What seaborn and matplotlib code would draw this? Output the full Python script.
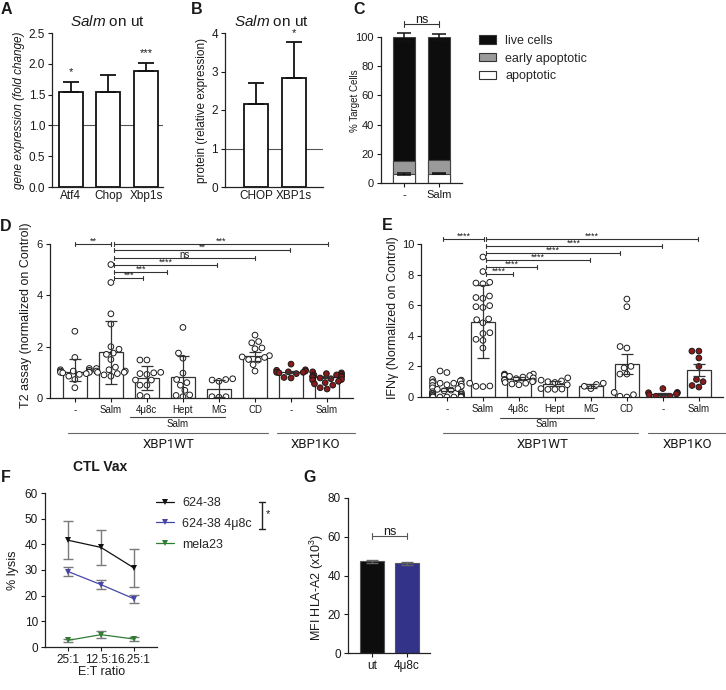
import warnings
warnings.filterwarnings("ignore")
import numpy as np
import pandas as pd
import matplotlib
matplotlib.use("Agg")
import matplotlib.pyplot as plt
import matplotlib.transforms as mtransforms
from matplotlib.patches import Patch
from matplotlib.lines import Line2D
import seaborn as sns

# ---------------- data ----------------
# Panel A
a_genes = ["Atf4", "Chop", "Xbp1s"]
a_mean = [1.54, 1.55, 1.88]
a_err = [0.17, 0.27, 0.14]
a_sig = ["*", "", "***"]
# Panel B
b_proteins = ["CHOP", "XBP1s"]
b_mean = [2.16, 2.83]
b_err = [0.53, 0.93]
b_sig = ["", "*"]
# Panel C
c_groups = ["-", "Salm"]
c_apoptotic = [6.0, 6.5]
c_early = [9.0, 9.0]
c_live = [85.0, 84.5]
c_live_err = [3.0, 2.0]
c_apo_err = [0.6, 0.6]
c_states = ["live cells", "early apoptotic", "apoptotic"]
# Panels D / E categories
de_treat = ["-", "Salm", "4μ8c", "Hept", "MG", "CD", "-", "Salm"]
de_geno = ["WT", "WT", "WT", "WT", "WT", "WT", "KO", "KO"]
# Panel D
d_mean = [1.02, 1.78, 0.77, 0.80, 0.37, 1.63, 1.00, 0.80]
d_lo = [0.35, 1.22, 0.47, 0.80, 0.33, 0.19, 0.04, 0.04]
d_hi = [0.50, 1.22, 0.48, 0.83, 0.33, 0.17, 0.04, 0.04]
d_points = [
    [2.6, 1.58, 1.15, 1.1, 1.08, 1.05, 1.05, 1.02, 1.0, 1.0, 0.98, 0.95, 0.92, 0.85, 0.72, 0.4],
    [5.2, 4.5, 3.28, 2.88, 2.0, 1.9, 1.75, 1.7, 1.5, 1.2, 1.15, 1.1, 1.05, 1.05, 1.0, 1.0, 0.95, 0.9, 0.85],
    [1.48, 1.48, 1.0, 0.98, 0.95, 0.92, 0.7, 0.7, 0.5, 0.5, 0.1, 0.05],
    [2.75, 1.75, 1.55, 0.97, 0.72, 0.6, 0.5, 0.3, 0.12, 0.1, 0.05],
    [0.72, 0.7, 0.75, 0.65, 0.05, 0.03, 0.05],
    [2.45, 2.2, 2.15, 1.95, 1.92, 1.65, 1.6, 1.58, 1.5, 1.48, 1.3, 1.05],
    [1.32, 1.1, 1.08, 1.05, 1.02, 1.0, 1.0, 0.98, 0.95, 0.8, 0.78],
    [1.02, 0.98, 0.95, 0.92, 0.9, 0.9, 0.85, 0.85, 0.82, 0.8, 0.78, 0.75, 0.72, 0.7,
     0.65, 0.6, 0.55, 0.5, 0.4, 0.35],
]
d_brackets = [(0.0, 1.0, 6.0, "**"), (1.1, 7.03, 6.0, "***"), (1.1, 5.97, 5.76, "**"),
              (1.1, 5.0, 5.45, "ns"), (1.1, 3.94, 5.17, "****"), (1.1, 2.56, 4.9, "***"),
              (1.1, 1.89, 4.66, "***")]
# Panel E
e_mean = [0.48, 4.88, 1.2, 0.84, 0.7, 2.15, 0.2, 1.75]
e_lo = [0.12, 2.35, 0.1, 0.12, 0.1, 0.65, 0.05, 0.38]
e_hi = [0.12, 2.42, 0.1, 0.18, 0.12, 0.65, 0.05, 0.38]
e_points = [
    [1.7, 1.6, 1.15, 1.1, 1.05, 1.0, 0.95, 0.9, 0.9, 0.85, 0.8, 0.75, 0.7, 0.6, 0.55, 0.5,
     0.45, 0.4, 0.35, 0.3, 0.25, 0.2, 0.2, 0.15, 0.1, 0.1, 0.05, 0.05, 0.02, 0.0, 0.0, 0.0, 0.0, 0.0],
    [9.15, 8.2, 7.5, 7.45, 7.4, 6.6, 6.5, 6.45, 5.97, 5.9, 5.85, 5.1, 5.05, 4.85, 4.2, 4.15,
     3.77, 3.7, 3.2, 0.9, 0.72, 0.7, 0.68],
    [1.5, 1.5, 1.45, 1.42, 1.4, 1.35, 1.3, 1.25, 1.2, 1.15, 1.1, 1.05, 1.0, 0.95, 0.9, 0.85, 0.8],
    [1.25, 1.1, 1.05, 1.0, 0.95, 0.8, 0.55, 0.5, 0.5, 0.52],
    [0.9, 0.82, 0.7, 0.55],
    [6.4, 5.9, 3.3, 3.2, 2.0, 1.9, 1.5, 1.5, 0.3, 0.15, 0.05, 0.0],
    [0.55, 0.3, 0.28, 0.25, 0.2, 0.15, 0.05, 0.0, 0.05],
    [3.0, 3.0, 2.55, 2.0, 1.15, 1.0, 0.75, 0.65],
]
e_brackets = [(-0.1, 1.03, 10.3, "****"), (1.08, 6.97, 10.3, "****"), (1.08, 5.97, 9.87, "****"),
              (1.08, 4.8, 9.4, "****"), (1.08, 3.97, 8.95, "****"), (1.08, 2.5, 8.5, "****"),
              (1.08, 1.83, 8.04, "****")]
# Panel F
f_ratios = ["25:1", "12.5:1", "6.25:1"]
f_series = ["624-38", "624-38 4μ8c", "mela23"]
f_624 = [41.6, 38.8, 30.8]
f_624_err = [7.4, 6.9, 7.5]
f_4u8c = [29.4, 24.3, 18.8]
f_4u8c_err = [1.8, 1.8, 1.5]
f_mela = [2.6, 4.8, 3.1]
f_mela_err = [0.5, 1.3, 0.8]
# Panel G
g_groups = ["ut", "4μ8c"]
g_mean = [47.3, 46.2]
g_err = [0.9, 0.7]

# ---------------- style ----------------
sns.set_theme(style="ticks")
plt.rcParams['font.family'] = ['Liberation Sans', 'DejaVu Sans']
plt.rcParams['mathtext.fontset'] = 'custom'
plt.rcParams['mathtext.rm'] = 'Liberation Sans'
plt.rcParams['mathtext.it'] = 'Liberation Sans:italic'
plt.rcParams['axes.linewidth'] = 0.9

W, H = 726, 690
fig = plt.figure(figsize=(W / 100, H / 100), dpi=100)
fig.patch.set_facecolor('white')
TXT = '#1a1a1a'


def box(l, t, r, b):
    ax = fig.add_axes([l / W, 1 - b / H, (r - l) / W, (b - t) / H])
    ax.set_facecolor('none')
    ax._pxbox = (l, t, r, b)
    return ax


def style(ax, fs):
    sns.despine(ax=ax)
    ax.tick_params(axis='both', direction='out', length=3, width=0.8, labelsize=fs,
                   pad=2, colors=TXT)
    for s in ['left', 'bottom']:
        ax.spines[s].set_linewidth(0.9)
        ax.spines[s].set_color('#222222')


def ylab(ax, text, px, py=None, **kw):
    l, t, r, b = ax._pxbox
    ax.set_ylabel(text, color=TXT, **kw)
    yy = 0.5 if py is None else (b - py) / (b - t)
    ax.yaxis.set_label_coords((px - l) / (r - l), yy)
    ax.yaxis.label.set_va('center')


def ftext(x, y, s, **kw):
    fig.text(x / W, 1 - y / H, s, color=TXT, **kw)


def px2data(ax, px):
    l, t, r, b = ax._pxbox
    y0, y1 = ax.get_ylim()
    return px * (y1 - y0) / (b - t)


def bracket(ax, x1, x2, y, txt, fs=6.5, tick=2.0, off=1.0, color='#333333'):
    dy = px2data(ax, tick)
    ax.plot([x1, x2], [y, y], color=color, lw=0.8, clip_on=False, solid_capstyle='butt')
    ax.plot([x1, x1], [y - dy, y + dy], color=color, lw=0.8, clip_on=False)
    ax.plot([x2, x2], [y - dy, y + dy], color=color, lw=0.8, clip_on=False)
    ax.annotate(txt, xy=((x1 + x2) / 2, y), xytext=(0, off), textcoords='offset points',
                ha='center', va='baseline', fontsize=fs, color=TXT, annotation_clip=False)


def hline_fig(ax, x1, x2, py, color='#444444', lw=0.8):
    tr = mtransforms.blended_transform_factory(ax.transData, fig.transFigure)
    ax.plot([x1, x2], [1 - py / H, 1 - py / H], transform=tr, color=color, lw=lw, clip_on=False)


def text_fig(ax, x, py, s, **kw):
    tr = mtransforms.blended_transform_factory(ax.transData, fig.transFigure)
    ax.text(x, 1 - py / H, s, transform=tr, ha='center', va='center', color=TXT, **kw)


# panel letters
for letter, (lx, ly) in {"A": (6, 9), "B": (197, 9), "C": (359, 9), "D": (6, 227),
                         "E": (387, 226), "F": (6, 477), "G": (310, 477)}.items():
    ftext(lx, ly, letter, fontsize=11.5, fontweight='bold', ha='center', va='center')

# ---------------- Panel A ----------------
axA = box(52, 33, 163, 187)
sns.barplot(x=a_genes, y=a_mean, color='white', edgecolor='#111111', linewidth=1.3,
            width=0.64, errorbar=None, ax=axA)
axA.errorbar(range(3), a_mean, yerr=[np.zeros(3), a_err], fmt='none', ecolor='#111111',
             elinewidth=1.3, capsize=6, capthick=1.3)
axA.axhline(1.0, color='#555555', lw=0.8, zorder=0.5)
for i, s in enumerate(a_sig):
    if s:
        axA.text(i, a_mean[i] + a_err[i] + 0.07, s, ha='center', va='bottom', fontsize=8, color=TXT)
axA.set_ylim(0, 2.5)
axA.set_xlim(-0.5, 2.45)
axA.set_yticks([0, 0.5, 1.0, 1.5, 2.0, 2.5])
axA.set_yticklabels(["0.0", "0.5", "1.0", "1.5", "2.0", "2.5"])
style(axA, 8.5)
axA.tick_params(axis='x', length=0)
ylab(axA, "gene expression (fold change)", 19, fontsize=8.5, style='italic')
ftext(107, 21, r"$\mathit{Salm}$ on ut", fontsize=11, ha='center', va='center')

# ---------------- Panel B ----------------
axB = box(225, 33, 323, 187)
sns.barplot(x=b_proteins, y=b_mean, color='white', edgecolor='#111111', linewidth=1.3,
            width=0.64, errorbar=None, ax=axB)
axB.errorbar(range(2), b_mean, yerr=[np.zeros(2), b_err], fmt='none', ecolor='#111111',
             elinewidth=1.3, capsize=6, capthick=1.3)
axB.axhline(1.0, color='#555555', lw=0.8, zorder=0.5)
for i, s in enumerate(b_sig):
    if s:
        axB.text(i, b_mean[i] + b_err[i] + 0.1, s, ha='center', va='bottom', fontsize=8, color=TXT)
axB.set_ylim(0, 4)
axB.set_xlim(-0.82, 1.76)
axB.set_yticks([0, 1, 2, 3, 4])
style(axB, 8.5)
axB.tick_params(axis='x', length=0)
ylab(axB, "protein (relative expression)", 202, fontsize=8.5)
ftext(271, 21, r"$\mathit{Salm}$ on ut", fontsize=11, ha='center', va='center')

# ---------------- Panel C ----------------
axC = box(381, 37, 462, 183)
c_tot_live = [a + e + l for a, e, l in zip(c_apoptotic, c_early, c_live)]
c_tot_early = [a + e for a, e in zip(c_apoptotic, c_early)]
sns.barplot(x=c_groups, y=c_tot_live, color='#0d0d0d', saturation=1, edgecolor='#444444',
            linewidth=0.8, width=0.63, errorbar=None, ax=axC)
sns.barplot(x=c_groups, y=c_tot_early, color='#9a9a9a', saturation=1, edgecolor='#444444',
            linewidth=0.8, width=0.63, errorbar=None, ax=axC)
sns.barplot(x=c_groups, y=c_apoptotic, color='white', saturation=1, edgecolor='#444444',
            linewidth=0.8, width=0.63, errorbar=None, ax=axC)
axC.errorbar(range(2), c_tot_live, yerr=c_live_err, fmt='none', ecolor='#111111',
             elinewidth=1.1, capsize=5, capthick=1.1, clip_on=False)
axC.errorbar(range(2), c_apoptotic, yerr=c_apo_err, fmt='none', ecolor='#111111',
             elinewidth=1.1, capsize=5, capthick=1.1)
axC.set_ylim(0, 100)
axC.set_xlim(-0.66, 1.66)
axC.set_yticks([0, 20, 40, 60, 80, 100])
style(axC, 8)
ylab(axC, "% Target Cells", 355, py=101, fontsize=7)
bracket(axC, 0, 1, 109, "ns", fs=9, tick=3, off=0.5)
c_handles = [Patch(facecolor='#0d0d0d', edgecolor='#333333', lw=0.8),
             Patch(facecolor='#9a9a9a', edgecolor='#333333', lw=0.8),
             Patch(facecolor='white', edgecolor='#333333', lw=0.8)]
axC.legend(c_handles, c_states, loc='upper left', bbox_to_anchor=(479 / W, 1 - 35 / H),
           bbox_transform=fig.transFigure, frameon=False, fontsize=9, handlelength=1.4,
           handleheight=0.65, handletextpad=0.7, labelspacing=0.45, borderpad=0,
           borderaxespad=0)

# ---------------- Panels D and E ----------------
keys = [f"{g} {t}" for g, t in zip(de_geno, de_treat)]
pal = {"WT": "white", "KO": "#8b1a1a"}


def scatter_bar(ax, means, lo, hi, points):
    rows = [(keys[i], v, de_geno[i]) for i in range(len(keys)) for v in points[i]]
    df = pd.DataFrame(rows, columns=["key", "value", "geno"])
    sns.barplot(x=keys, y=means, order=keys, color='white', saturation=1,
                edgecolor='#333333', linewidth=0.9, width=0.66, errorbar=None, ax=ax)
    sns.swarmplot(data=df, x="key", y="value", hue="geno", order=keys, palette=pal,
                  size=4.1, edgecolor='#1a1a1a', linewidth=0.7, legend=False, ax=ax, zorder=3)
    ax.errorbar(range(len(keys)), means, yerr=[lo, hi], fmt='none', ecolor='#333333',
                elinewidth=0.9, capsize=4.5, capthick=0.9, zorder=4)
    ax.set_xticks(range(len(keys)))
    ax.set_xticklabels(de_treat)
    ax.set_xlabel("")


axD = box(50, 244, 353, 398)
scatter_bar(axD, d_mean, d_lo, d_hi, d_points)
axD.set_ylim(0, 6)
axD.set_xlim(-0.69, 7.72)
axD.set_yticks([0, 2, 4, 6])
style(axD, 8)
axD.tick_params(axis='x', labelsize=7)
ylab(axD, "T2 assay (normalized on Control)", 26, py=315, fontsize=9)
for x1, x2, y, s in d_brackets:
    bracket(axD, x1, x2, y, s, fs=6.5 if s != "ns" else 7, tick=2, off=0.3)
hline_fig(axD, 1.53, 4.17, 417)
text_fig(axD, 2.85, 424, "Salm", fontsize=7)
hline_fig(axD, -0.2, 5.36, 433, color='#666666')
hline_fig(axD, 5.6, 7.78, 433, color='#666666')
text_fig(axD, 2.6, 445, "XBP1WT", fontsize=9.5, family=['Roboto', 'DejaVu Sans'])
text_fig(axD, 6.67, 445, "XBP1KO", fontsize=9.5, family=['Roboto', 'DejaVu Sans'])

axE = box(421, 244, 723, 397)
scatter_bar(axE, e_mean, e_lo, e_hi, e_points)
axE.set_ylim(0, 10)
axE.set_xlim(-0.72, 7.67)
axE.set_yticks([0, 2, 4, 6, 8, 10])
style(axE, 8)
axE.tick_params(axis='x', labelsize=7)
ylab(axE, "IFNγ (Normalized on Control)", 393, py=318, fontsize=9)
for x1, x2, y, s in e_brackets:
    bracket(axE, x1, x2, y, s, fs=6.5, tick=2, off=0.3)
hline_fig(axE, 1.47, 4.1, 418)
text_fig(axE, 2.78, 424, "Salm", fontsize=7)
hline_fig(axE, -0.1, 5.3, 433, color='#666666')
hline_fig(axE, 5.58, 7.8, 433, color='#666666')
text_fig(axE, 2.67, 445, "XBP1WT", fontsize=9.5, family=['Roboto', 'DejaVu Sans'])
text_fig(axE, 6.67, 445, "XBP1KO", fontsize=9.5, family=['Roboto', 'DejaVu Sans'])

# ---------------- Panel F ----------------
axF = box(45, 493, 157, 647)
f_vals = [f_624, f_4u8c, f_mela]
f_errs = [f_624_err, f_4u8c_err, f_mela_err]
f_colors = ['#111111', '#4646a8', '#2f7d32']
f_df = pd.DataFrame([(r, v, s) for s, vals in zip(f_series, f_vals) for r, v in zip(f_ratios, vals)],
                    columns=["ratio", "lysis", "series"])
for s, vals, errs, col in zip(f_series, f_vals, f_errs, f_colors):
    axF.errorbar(range(3), vals, yerr=errs, fmt='none', ecolor='#7a7a7a', elinewidth=1.0,
                 capsize=3.5, capthick=1.0, zorder=1)
sns.lineplot(data=f_df, x="ratio", y="lysis", hue="series", hue_order=f_series,
             palette=dict(zip(f_series, f_colors)), marker='v', markersize=5,
             markeredgewidth=0, lw=0.9, legend=False, ax=axF, zorder=3)
axF.set_ylim(0, 60)
axF.set_xlim(-0.7, 2.7)
axF.set_yticks(range(0, 61, 10))
style(axF, 8.5)
axF.set_xlabel("")
ylab(axF, "% lysis", 13, fontsize=9)
ftext(102, 672, "E:T ratio", fontsize=9, ha='center', va='center')
ftext(100, 467, "CTL Vax", fontsize=10, fontweight='bold', ha='center', va='center')
f_handles = [Line2D([0], [0], color=c, lw=0.9, marker='v', markersize=4.5, markeredgewidth=0)
             for c in f_colors]
axF.legend(f_handles, f_series, loc='upper left', bbox_to_anchor=(156 / W, 1 - 497 / H),
           bbox_transform=fig.transFigure, frameon=False, fontsize=9, handlelength=1.4,
           handletextpad=0.7, labelspacing=0.7, borderpad=0, borderaxespad=0)
# significance bracket between 624-38 lines
yb1, yb2 = 1 - 502 / H, 1 - 529 / H
fig.add_artist(Line2D([262 / W, 262 / W], [yb1, yb2], color='#222222', lw=1.0))
fig.add_artist(Line2D([259 / W, 265 / W], [yb1, yb1], color='#222222', lw=1.0))
fig.add_artist(Line2D([259 / W, 265 / W], [yb2, yb2], color='#222222', lw=1.0))
ftext(268, 514, "*", fontsize=8, ha='center', va='center')

# ---------------- Panel G ----------------
axG = box(348, 498, 430, 653)
sns.barplot(x=g_groups, y=g_mean, hue=g_groups, palette=['#0d0d0d', '#33338a'], saturation=1,
            edgecolor='#555555', linewidth=0.8, width=0.68, errorbar=None, legend=False, ax=axG)
axG.errorbar(range(2), g_mean, yerr=g_err, fmt='none', ecolor='#666666', elinewidth=1.0,
             capsize=4, capthick=1.0)
axG.set_ylim(0, 80)
axG.set_xlim(-0.69, 1.66)
axG.set_yticks([0, 20, 40, 60, 80])
style(axG, 8.5)
ylab(axG, r"MFI HLA-A2 (x10$^3$)", 317, py=587, fontsize=9)
bracket(axG, 0, 1, 60.5, "ns", fs=9, tick=3, off=0.5, color='#555555')

fig.savefig("out.png", dpi=100, facecolor='white')
